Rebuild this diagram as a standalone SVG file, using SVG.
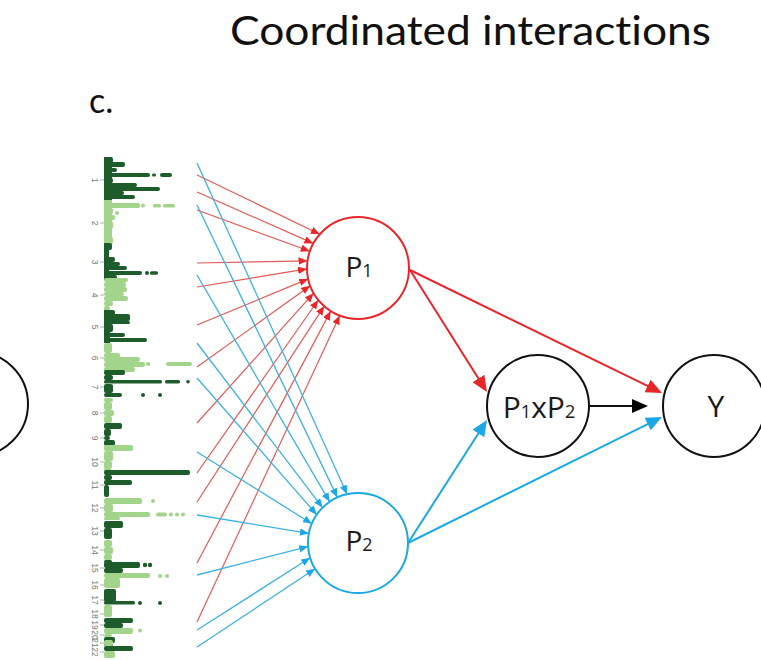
<svg xmlns="http://www.w3.org/2000/svg" width="761" height="660" viewBox="0 0 761 660">
  <style>
    .title { font-family: Lato, "Open Sans", "Liberation Sans", sans-serif; fill: #111; font-variant-ligatures: none; }
    .lbl { font-family: "Open Sans", Lato, "Liberation Sans", sans-serif; fill: #1a1a1a; text-anchor: middle; }
    .sub { font-size: 18px; }
    .node-k { fill: #fff; stroke: #111; stroke-width: 2; }
    .node-r { fill: #fff; stroke: #e8262a; stroke-width: 2; }
    .node-b { fill: #fff; stroke: #1ba9e6; stroke-width: 2; }
    .thin-r { stroke: #e35a57; stroke-width: 1.2; fill: none; marker-end: url(#hr); }
    .thin-b { stroke: #3db1e2; stroke-width: 1.3; fill: none; marker-end: url(#hb); }
    .big-r { stroke: #e8262a; stroke-width: 2; fill: none; marker-end: url(#Hr); }
    .big-b { stroke: #1ba9e6; stroke-width: 2; fill: none; marker-end: url(#Hb); }
    .big-k { stroke: #111; stroke-width: 2; fill: none; marker-end: url(#Hk); }
    .d { fill: #1f5c2c; }
    .l { fill: #a3d48c; }
    .tick { stroke: #999; stroke-width: 0.8; }
    .chr { font-family: "Liberation Sans", Arial, sans-serif; font-size: 8.5px; fill: #777; text-anchor: middle; }
  </style>
  <defs>
    <marker id="hr" markerUnits="userSpaceOnUse" markerWidth="10" markerHeight="8" refX="9" refY="3.75" orient="auto">
      <path d="M0,0 L9,3.75 L0,7.5 z" fill="#e8262a"/>
    </marker>
    <marker id="hb" markerUnits="userSpaceOnUse" markerWidth="10" markerHeight="8" refX="9" refY="3.75" orient="auto">
      <path d="M0,0 L9,3.75 L0,7.5 z" fill="#1ba9e6"/>
    </marker>
    <marker id="Hr" markerUnits="userSpaceOnUse" markerWidth="17" markerHeight="15" refX="13" refY="7" orient="auto">
      <path d="M0,0 L16,7 L0,14 z" fill="#e8262a"/>
    </marker>
    <marker id="Hb" markerUnits="userSpaceOnUse" markerWidth="17" markerHeight="15" refX="13" refY="7" orient="auto">
      <path d="M0,0 L16,7 L0,14 z" fill="#1ba9e6"/>
    </marker>
    <marker id="Hk" markerUnits="userSpaceOnUse" markerWidth="17" markerHeight="15" refX="13" refY="7" orient="auto">
      <path d="M0,0 L16,7 L0,14 z" fill="#000"/>
    </marker>
  </defs>

  <rect width="761" height="660" fill="#fff"/>

  <!-- headings -->
  <text class="title" x="230" y="45" font-size="41" textLength="481" lengthAdjust="spacingAndGlyphs">Coordinated interactions</text>
  <text class="title" x="89" y="113" font-size="34">c.</text>

  <!-- partial node at the left edge -->
  <g id="node-left">
    <circle class="node-k" cx="-24" cy="404" r="52"/>
  </g>

  <!-- vertical Manhattan plot, chromosomes 1-22 -->
  <g id="manhattan">
    <!-- chr1 -->
    <rect class="d" x="104" y="157" width="8" height="43"/>
    <rect class="d" x="104" y="157" width="9" height="6" rx="2"/>
    <rect class="d" x="104" y="162" width="21" height="5" rx="2"/>
    <rect class="d" x="104" y="168" width="13" height="4" rx="2"/>
    <rect class="d" x="104" y="173" width="46" height="4" rx="2"/>
    <rect class="d" x="152" y="173.5" width="4" height="3" rx="1.5"/>
    <rect class="d" x="160" y="173" width="12" height="4" rx="2"/>
    <rect class="d" x="104" y="178" width="9" height="5" rx="2"/>
    <rect class="d" x="104" y="183" width="33" height="4" rx="2"/>
    <rect class="d" x="104" y="187" width="56" height="4" rx="2"/>
    <rect class="d" x="104" y="191" width="20" height="4" rx="2"/>
    <rect class="d" x="104" y="195" width="31" height="4" rx="2"/>
    <!-- chr2 -->
    <rect class="l" x="104" y="200" width="8" height="45"/>
    <rect class="l" x="104" y="203" width="36" height="5" rx="2"/>
    <circle class="l" cx="143" cy="205.5" r="2"/>
    <rect class="l" x="153" y="204" width="8" height="3.5" rx="1.5"/>
    <rect class="l" x="163" y="204" width="12" height="3.5" rx="1.5"/>
    <rect class="l" x="104" y="208" width="9" height="6" rx="2"/>
    <circle class="l" cx="117" cy="213" r="2"/>
    <rect class="l" x="104" y="215" width="11" height="5" rx="2"/>
    <rect class="l" x="104" y="221" width="9" height="8" rx="2"/>
    <rect class="l" x="104" y="229" width="8" height="8" rx="2"/>
    <rect class="l" x="104" y="237" width="9" height="7" rx="2"/>
    <!-- chr3 -->
    <rect class="d" x="104" y="243" width="5" height="37"/>
    <rect class="d" x="104" y="243" width="8" height="7" rx="2"/>
    <rect class="d" x="104" y="257" width="11" height="5" rx="2"/>
    <rect class="d" x="104" y="262" width="16" height="4" rx="2"/>
    <rect class="d" x="104" y="266" width="23" height="4" rx="2"/>
    <rect class="d" x="104" y="271" width="38" height="4" rx="2"/>
    <circle class="d" cx="147" cy="273" r="2"/>
    <rect class="d" x="150" y="271.3" width="8" height="3.5" rx="1.5"/>
    <rect class="d" x="104" y="275" width="13" height="4" rx="2"/>
    <!-- chr4 -->
    <rect class="l" x="104" y="278" width="24" height="4" rx="2"/>
    <rect class="l" x="104" y="282" width="22" height="5" rx="2"/>
    <rect class="l" x="104" y="287" width="23" height="5" rx="2"/>
    <rect class="l" x="104" y="292" width="20" height="4" rx="2"/>
    <rect class="l" x="104" y="296" width="24" height="5" rx="2"/>
    <rect class="l" x="104" y="301" width="9" height="5" rx="2"/>
    <rect class="l" x="104" y="306" width="6" height="5" rx="2"/>
    <!-- chr5 -->
    <rect class="d" x="104" y="310" width="6" height="33"/>
    <rect class="d" x="104" y="310" width="11" height="5" rx="2"/>
    <rect class="d" x="104" y="314" width="26" height="7" rx="2"/>
    <rect class="d" x="104" y="321" width="26" height="3" rx="1.5"/>
    <rect class="d" x="104" y="324" width="9" height="8" rx="2"/>
    <rect class="d" x="104" y="333" width="21" height="4" rx="2"/>
    <rect class="d" x="104" y="338" width="43" height="4" rx="2"/>
    <!-- chr6 -->
    <rect class="l" x="104" y="343" width="8" height="10" rx="2"/>
    <rect class="l" x="104" y="353" width="16" height="5" rx="2"/>
    <rect class="l" x="104" y="357" width="36" height="5" rx="2"/>
    <rect class="l" x="104" y="362" width="41" height="5" rx="2"/>
    <circle class="l" cx="148" cy="364" r="2"/>
    <rect class="l" x="166" y="362" width="26" height="4" rx="2"/>
    <rect class="l" x="104" y="367" width="31" height="5" rx="2"/>
    <!-- chr7 -->
    <rect class="d" x="104" y="370" width="21" height="5" rx="2"/>
    <rect class="d" x="104" y="375" width="9" height="5" rx="2"/>
    <rect class="d" x="104" y="380" width="58" height="3.5" rx="1.5"/>
    <rect class="d" x="165" y="380" width="15" height="3.5" rx="1.5"/>
    <circle class="d" cx="188" cy="381.8" r="1.8"/>
    <rect class="d" x="104" y="384" width="9" height="9" rx="2"/>
    <rect class="d" x="104" y="393" width="18" height="4" rx="2"/>
    <circle class="d" cx="143" cy="395" r="2"/>
    <circle class="d" cx="160" cy="395" r="2"/>
    <!-- chr8 -->
    <rect class="l" x="104" y="398" width="9" height="4" rx="2"/>
    <rect class="l" x="104" y="402" width="8" height="8" rx="2"/>
    <rect class="l" x="104" y="410" width="10" height="6" rx="2"/>
    <rect class="l" x="104" y="416" width="8" height="7" rx="2"/>
    <!-- chr9 -->
    <rect class="d" x="104" y="423" width="18" height="6" rx="2"/>
    <rect class="d" x="104" y="429" width="7" height="7" rx="2"/>
    <rect class="d" x="104" y="436" width="6" height="4" rx="2"/>
    <rect class="d" x="104" y="440" width="11" height="6" rx="2"/>
    <!-- chr10 -->
    <rect class="l" x="104" y="445" width="29" height="6" rx="2"/>
    <rect class="l" x="104" y="451" width="9" height="10" rx="2"/>
    <rect class="l" x="104" y="461" width="8" height="8" rx="2"/>
    <rect class="l" x="104" y="468" width="7" height="3" rx="1.5"/>
    <!-- chr11 -->
    <rect class="d" x="104" y="470" width="86" height="5" rx="2"/>
    <rect class="d" x="104" y="475" width="8" height="5" rx="2"/>
    <rect class="d" x="104" y="480" width="28" height="5" rx="2"/>
    <rect class="d" x="104" y="485" width="5" height="12" rx="2"/>
    <!-- chr12 -->
    <rect class="l" x="104" y="498" width="38" height="6" rx="2"/>
    <circle class="l" cx="153" cy="501" r="2"/>
    <rect class="l" x="104" y="504" width="9" height="8" rx="2"/>
    <rect class="l" x="104" y="512" width="46" height="5" rx="2"/>
    <rect class="l" x="156" y="512.5" width="11" height="4" rx="2"/>
    <circle class="l" cx="171" cy="514.5" r="2"/>
    <circle class="l" cx="177" cy="514.5" r="2"/>
    <circle class="l" cx="183" cy="514.5" r="2"/>
    <rect class="l" x="104" y="517" width="16" height="3" rx="1.5"/>
    <!-- chr13 -->
    <rect class="d" x="104" y="521" width="19" height="7" rx="2"/>
    <rect class="d" x="104" y="528" width="8" height="11" rx="2"/>
    <!-- chr14 -->
    <rect class="l" x="104" y="540" width="8" height="7" rx="2"/>
    <rect class="l" x="104" y="547" width="9" height="7" rx="2"/>
    <rect class="l" x="104" y="554" width="8" height="6" rx="2"/>
    <!-- chr15 -->
    <rect class="d" x="104" y="560" width="8" height="3" rx="1.5"/>
    <rect class="d" x="104" y="562" width="36" height="6" rx="2"/>
    <circle class="d" cx="145" cy="565" r="2.2"/>
    <circle class="d" cx="150" cy="565" r="2.2"/>
    <rect class="d" x="104" y="568" width="19" height="5" rx="2"/>
    <!-- chr16 -->
    <rect class="l" x="104" y="573" width="46" height="5" rx="2"/>
    <circle class="l" cx="160" cy="576" r="2"/>
    <circle class="l" cx="167" cy="576" r="2"/>
    <rect class="l" x="104" y="578" width="16" height="10" rx="2"/>
    <!-- chr17 -->
    <rect class="d" x="104" y="589" width="12" height="13" rx="2"/>
    <rect class="d" x="104" y="601" width="31" height="3.5" rx="1.5"/>
    <circle class="d" cx="140" cy="603" r="2"/>
    <circle class="d" cx="160" cy="603" r="2"/>
    <!-- chr18 -->
    <rect class="l" x="104" y="605" width="8" height="12" rx="2"/>
    <!-- chr19 -->
    <rect class="d" x="104" y="618" width="29" height="5" rx="2"/>
    <rect class="d" x="104" y="623" width="19" height="5" rx="2"/>
    <!-- chr20 -->
    <rect class="l" x="104" y="628" width="29" height="6" rx="2"/>
    <circle class="l" cx="140" cy="630.5" r="2"/>
    <rect class="l" x="104" y="634" width="8" height="3" rx="1.5"/>
    <!-- chr21 -->
    <rect class="d" x="104" y="637" width="11" height="6" rx="2"/>
    <rect class="d" x="104" y="643" width="9" height="3" rx="1.5"/>
    <!-- chr22 -->
    <rect class="l" x="104" y="640" width="9" height="6" rx="2"/>
    <rect class="d" x="104" y="646" width="29" height="5" rx="2"/>
    <rect class="l" x="104" y="651" width="11" height="7" rx="2"/>

    <!-- chromosome ticks and labels -->
    <g class="tick">
      <line x1="100" y1="180" x2="104" y2="180"/><line x1="100" y1="223" x2="104" y2="223"/>
      <line x1="100" y1="262" x2="104" y2="262"/><line x1="100" y1="295" x2="104" y2="295"/>
      <line x1="100" y1="327" x2="104" y2="327"/><line x1="100" y1="358" x2="104" y2="358"/>
      <line x1="100" y1="387" x2="104" y2="387"/><line x1="100" y1="413" x2="104" y2="413"/>
      <line x1="100" y1="438" x2="104" y2="438"/><line x1="100" y1="462" x2="104" y2="462"/>
      <line x1="100" y1="485" x2="104" y2="485"/><line x1="100" y1="508" x2="104" y2="508"/>
      <line x1="100" y1="531" x2="104" y2="531"/><line x1="100" y1="550" x2="104" y2="550"/>
      <line x1="100" y1="568" x2="104" y2="568"/><line x1="100" y1="585" x2="104" y2="585"/>
      <line x1="100" y1="600" x2="104" y2="600"/><line x1="100" y1="614" x2="104" y2="614"/>
      <line x1="100" y1="625" x2="104" y2="625"/><line x1="100" y1="635" x2="104" y2="635"/>
      <line x1="100" y1="643" x2="104" y2="643"/><line x1="100" y1="652" x2="104" y2="652"/>
    </g>
    <g class="chr">
      <text transform="translate(92,180) rotate(90)">1</text>
      <text transform="translate(92,223) rotate(90)">2</text>
      <text transform="translate(92,262) rotate(90)">3</text>
      <text transform="translate(92,295) rotate(90)">4</text>
      <text transform="translate(92,327) rotate(90)">5</text>
      <text transform="translate(92,358) rotate(90)">6</text>
      <text transform="translate(92,387) rotate(90)">7</text>
      <text transform="translate(92,413) rotate(90)">8</text>
      <text transform="translate(92,438) rotate(90)">9</text>
      <text transform="translate(92,462) rotate(90)">10</text>
      <text transform="translate(92,485) rotate(90)">11</text>
      <text transform="translate(92,508) rotate(90)">12</text>
      <text transform="translate(92,531) rotate(90)">13</text>
      <text transform="translate(92,550) rotate(90)">14</text>
      <text transform="translate(92,568) rotate(90)">15</text>
      <text transform="translate(92,585) rotate(90)">16</text>
      <text transform="translate(92,600) rotate(90)">17</text>
      <text transform="translate(92,614) rotate(90)">18</text>
      <text transform="translate(92,625) rotate(90)">19</text>
      <text transform="translate(92,635) rotate(90)">20</text>
      <text transform="translate(92,643) rotate(90)">21</text>
      <text transform="translate(92,652) rotate(90)">22</text>
    </g>
  </g>

  <!-- connectors -->
  <g id="connectors">
    <!-- loci to P1 -->
    <line class="thin-r" x1="197" y1="175" x2="319.8" y2="234.2"/>
    <line class="thin-r" x1="197" y1="192" x2="313.3" y2="243.4"/>
    <line class="thin-r" x1="197" y1="210" x2="309.8" y2="251.3"/>
    <line class="thin-r" x1="197" y1="263" x2="307.5" y2="260.8"/>
    <line class="thin-r" x1="197" y1="287" x2="307" y2="268.9"/>
    <line class="thin-r" x1="197" y1="325" x2="308.2" y2="278.9"/>
    <line class="thin-r" x1="197" y1="367" x2="310.2" y2="285.7"/>
    <line class="thin-r" x1="197" y1="423" x2="313.6" y2="293.2"/>
    <line class="thin-r" x1="197" y1="473" x2="318.3" y2="300"/>
    <line class="thin-r" x1="197" y1="502" x2="324.2" y2="306.1"/>
    <line class="thin-r" x1="197" y1="563" x2="330.7" y2="311.1"/>
    <line class="thin-r" x1="197" y1="622" x2="339.8" y2="315.6"/>
    <!-- loci to P2 -->
    <line class="thin-b" x1="197" y1="163" x2="347.1" y2="494.2"/>
    <line class="thin-b" x1="197" y1="205" x2="337.4" y2="497.4"/>
    <line class="thin-b" x1="197" y1="275" x2="329.7" y2="501.8"/>
    <line class="thin-b" x1="197" y1="343" x2="322.6" y2="507.6"/>
    <line class="thin-b" x1="197" y1="378" x2="316.8" y2="514.7"/>
    <line class="thin-b" x1="197" y1="452" x2="311.9" y2="523.7"/>
    <line class="thin-b" x1="197" y1="515" x2="308.9" y2="533.4"/>
    <line class="thin-b" x1="197" y1="575" x2="308.1" y2="546.6"/>
    <line class="thin-b" x1="197" y1="630" x2="310.2" y2="557.8"/>
    <line class="thin-b" x1="197" y1="647" x2="315.1" y2="568.8"/>
    <!-- pathway edges -->
    <line class="big-r" x1="410" y1="270" x2="485.4" y2="389.5"/>
    <line class="big-r" x1="410" y1="270" x2="659.3" y2="391.7"/>
    <line class="big-b" x1="408" y1="543" x2="485.4" y2="422.5"/>
    <line class="big-b" x1="408" y1="543" x2="659.3" y2="418.3"/>
    <line class="big-k" x1="589" y1="406" x2="645" y2="406"/>
  </g>

  <!-- nodes -->
  <g id="node-p1">
    <circle class="node-r" cx="358" cy="268" r="51"/>
    <text class="lbl" x="359" y="277" font-size="28">P<tspan class="sub">1</tspan></text>
  </g>
  <g id="node-p2">
    <circle class="node-b" cx="358" cy="543" r="50"/>
    <text class="lbl" x="359" y="551" font-size="28">P<tspan class="sub">2</tspan></text>
  </g>
  <g id="node-p1xp2">
    <circle class="node-k" cx="538" cy="406" r="51"/>
    <text class="lbl" x="539" y="418" font-size="30">P<tspan class="sub">1</tspan>xP<tspan class="sub">2</tspan></text>
  </g>
  <g id="node-y">
    <circle class="node-k" cx="714" cy="406" r="51"/>
    <text class="lbl" x="716" y="417" font-size="30">Y</text>
  </g>
</svg>
